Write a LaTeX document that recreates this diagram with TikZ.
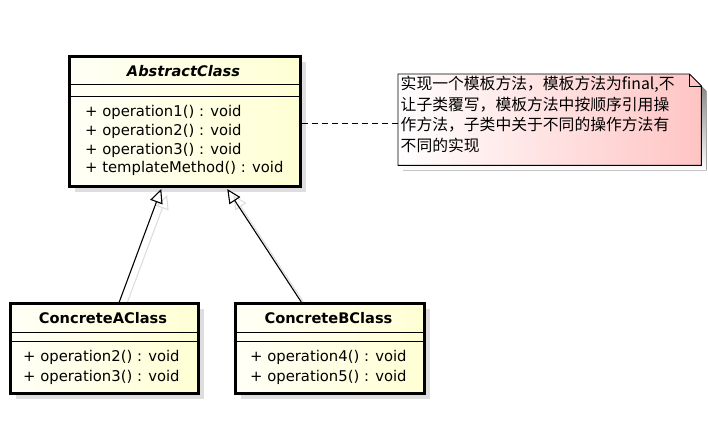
\documentclass[tikz,border=0pt]{standalone}
\usepackage{fontspec}
\setmainfont{DejaVu Sans}
\newfontfamily\cjk{Noto Sans CJK SC}
\usetikzlibrary{arrows.meta,shadows,calc,backgrounds}
\definecolor{cream}{RGB}{255,255,212}
\definecolor{creamw}{RGB}{255,255,246}
\definecolor{notepink}{RGB}{255,196,196}
\definecolor{shade}{RGB}{222,222,222}
\tikzset{
  classbox/.style={draw=black, line width=2.5pt, left color=creamw, right color=cream, anchor=north west, inner sep=0pt,
    drop shadow={shadow xshift=6pt, shadow yshift=-6pt, fill=shade, opacity=1}},
  sepline/.style={line width=0.8pt},
  opitem/.style={anchor=west, inner sep=0pt, font=\fontsize{14.8}{16}\selectfont},
  cname/.style={inner sep=0pt, font=\fontsize{14.6}{16}\selectfont\bfseries},
  gen/.style={line width=1.1pt, -{Triangle[open, length=14pt, width=13pt, line width=1.1pt]}},
  genshadow/.style={line width=1.1pt, draw=shade, -{Triangle[open, length=14pt, width=13pt, line width=1.1pt]}},
}
\begin{document}
\begin{tikzpicture}[x=1pt, y=-1pt]
\useasboundingbox (0,0) rectangle (708,421);
% AbstractClass
\node[classbox, minimum width=231pt, minimum height=130pt] (abs) at (68,55) {};
\node[cname, font=\fontsize{14.6}{16}\selectfont\bfseries\itshape] (absname) at (183.5,71) {AbstractClass};
\draw[sepline] (68,84) -- (299,84);
\draw[sepline] (68,96) -- (299,96);
\node[opitem] (a1) at (85,112) {+ operation1() : void};
\node[opitem] (a2) at (85,131) {+ operation2() : void};
\node[opitem] (a3) at (85,150) {+ operation3() : void};
\node[opitem] (a4) at (85,168) {+ templateMethod() : void};
% ConcreteAClass
\node[classbox, minimum width=188pt, minimum height=90pt] (ca) at (9,302) {};
\node[cname] (caname) at (103,318) {ConcreteAClass};
\draw[sepline] (9,332) -- (197,332);
\draw[sepline] (9,341) -- (197,341);
\node[opitem] (ca1) at (23,357) {+ operation2() : void};
\node[opitem] (ca2) at (23,377) {+ operation3() : void};
% ConcreteBClass
\node[classbox, minimum width=189pt, minimum height=90pt] (cb) at (234,302) {};
\node[cname] (cbname) at (328.5,318) {ConcreteBClass};
\draw[sepline] (234,332) -- (423,332);
\draw[sepline] (234,341) -- (423,341);
\node[opitem] (cb1) at (250,357) {+ operation4() : void};
\node[opitem] (cb2) at (250,377) {+ operation5() : void};
% Note
\node[anchor=north west, minimum width=303pt, minimum height=91pt, inner sep=0pt] (note) at (398,74) {};
\fill[shade] ([shift={(5pt,-5pt)}]note.north west) -- ([shift={(-7pt,-5pt)}]note.north east) -- ([shift={(5pt,-17pt)}]note.north east) -- ([shift={(5pt,-5pt)}]note.south east) -- ([shift={(5pt,-5pt)}]note.south west) -- cycle;
\draw[line width=0.9pt, left color=white, right color=notepink] (note.north west) -- ([xshift=-12pt]note.north east) -- ([yshift=-12pt]note.north east) -- (note.south east) -- (note.south west) -- cycle;
\draw[line width=0.9pt] ([xshift=-12pt]note.north east) -- ([shift={(-12pt,-12pt)}]note.north east) -- ([yshift=-12pt]note.north east);
\node[anchor=north west, inner sep=0pt, align=left, font=\cjk\fontsize{15.8}{20.7}\selectfont] (notetext) at (400.5,76) {实现一个模板方法，模板方法为final,不\\让子类覆写，模板方法中按顺序引用操\\作方法，子类中关于不同的操作方法有\\不同的实现};
% dashed link
\draw[line width=0.9pt, dash pattern=on 6pt off 4pt] ([yshift=-2.5pt]abs.east) -- ([yshift=-2.5pt]abs.east -| note.west);
% generalizations
\begin{scope}[on background layer]
\draw[genshadow] ([shift={(21pt,-6pt)}]ca.north) -- ([shift={(-17.5pt,-7.5pt)}]abs.south);
\draw[genshadow] ([shift={(-22.5pt,-6pt)}]cb.north) -- ([shift={(48.5pt,-7.5pt)}]abs.south);
\end{scope}
\draw[gen] ([xshift=15pt]ca.north) -- ([shift={(-23.5pt,-1.5pt)}]abs.south);
\draw[gen] ([xshift=-28.5pt]cb.north) -- ([shift={(42.5pt,-1.5pt)}]abs.south);
\end{tikzpicture}
\end{document}
